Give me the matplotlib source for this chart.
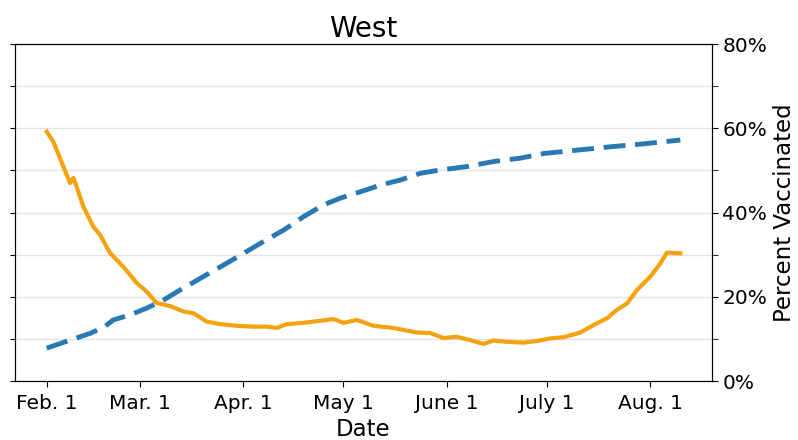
import matplotlib
matplotlib.use("Agg")
import matplotlib.pyplot as plt
from matplotlib.ticker import MultipleLocator, FuncFormatter

# Days since Feb. 1
case_days = [0, 2, 5, 7, 8, 9, 11, 14, 16, 19, 23, 27, 30, 33, 37, 41, 44, 48, 52, 57,
             62, 66, 69, 72, 77, 82, 86, 89, 93, 98, 104, 111, 115, 119, 123, 127, 131,
             134, 138, 143, 147, 151, 155, 160, 164, 168, 171, 174, 177, 181, 184, 186, 190]
case_values = [59.2, 56.8, 50.9, 47.0, 48.2, 46.1, 41.4, 36.6, 34.7, 30.4, 27.1, 23.3, 21.2,
               18.5, 17.8, 16.5, 16.1, 14.1, 13.5, 13.1, 12.9, 12.9, 12.6, 13.5, 13.8, 14.3,
               14.7, 13.8, 14.5, 13.1, 12.6, 11.5, 11.4, 10.2, 10.5, 9.7, 8.8, 9.6, 9.3, 9.1,
               9.5, 10.1, 10.4, 11.5, 13.3, 14.9, 16.9, 18.4, 21.6, 24.8, 27.9, 30.5, 30.3]

vax_days = [0, 7, 13, 17, 20, 25, 30, 35, 40, 47, 53, 59, 65, 71, 77, 83, 88, 94, 100,
            106, 112, 118, 126, 134, 142, 149, 159, 169, 179, 190]
vax_values = [7.8, 9.7, 11.3, 12.7, 14.5, 15.7, 17.3, 19.2, 21.6, 24.8, 27.5, 30.3, 33.1,
              35.8, 39.0, 41.8, 43.4, 44.9, 46.5, 47.7, 49.3, 50.1, 50.9, 52.1, 52.9, 54.0,
              54.8, 55.6, 56.3, 57.2]

tick_days = [0, 28, 59, 89, 120, 150, 181]
tick_labels = ["Feb. 1", "Mar. 1", "Apr. 1", "May 1", "June 1", "July 1", "Aug. 1"]

fig = plt.figure(figsize=(7.98, 4.40), dpi=100)
ax = fig.add_axes([15/798, 1-381/440, (712-15)/798, (381-44)/440])
ax.plot(case_days, case_values, color="#F5A20F", lw=3, zorder=3)
ax.set_ylim(0, 80)
ax.yaxis.set_major_locator(MultipleLocator(10))
ax.set_yticklabels([])
ax.grid(axis="y", color="#e3e3e3", lw=1)
ax.set_axisbelow(True)
ax.set_xticks(tick_days)
ax.set_xticklabels(tick_labels, fontsize=14.5)
ax.set_xlabel("Date", fontsize=16.5, labelpad=4)
ax.set_title("West", fontsize=20, pad=5)
ax.tick_params(axis="x", length=4, pad=5)

ax2 = ax.twinx()
ax2.plot(vax_days, vax_values, color="#2878b4", lw=3.5, ls=(0, (4.5, 2)), zorder=4)
ax2.set_ylim(0, 80)
ax2.yaxis.set_major_locator(MultipleLocator(20))
ax2.yaxis.set_minor_locator(MultipleLocator(10))
ax2.yaxis.set_major_formatter(FuncFormatter(lambda v, p: f"{v:.0f}%"))
ax2.tick_params(axis="y", labelsize=14.5, which="major", length=4)
ax2.tick_params(axis="y", which="minor", length=4)
ax2.set_ylabel("Percent Vaccinated", fontsize=16.5, labelpad=4)

fig.savefig("out.png", dpi=100)
